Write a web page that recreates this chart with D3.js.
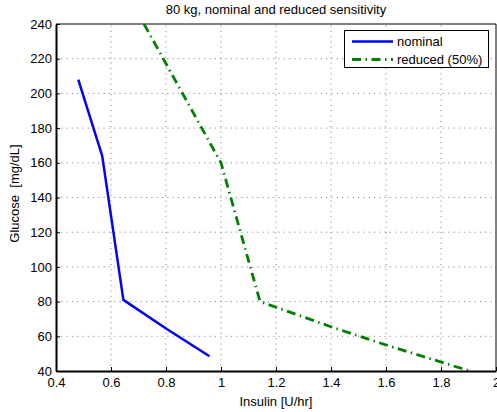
<!DOCTYPE html>
<html>
<head>
<script src="https://d3js.org/d3.v7.min.js"></script>
<style>
  body { margin:0; background:#fff; }
  svg { font-family: "Liberation Sans", Arial, sans-serif; }
</style>
</head>
<body>
<script>
// data
var nominalX = [0.481, 0.568, 0.645, 0.80, 0.958];
var nominalY = [208, 164, 81, 64.5, 48.5];
var reducedX = [0.72, 1.0, 1.142, 1.4, 1.6, 1.905];
var reducedY = [240, 160, 80, 65.5, 55, 40];
var xTicks = [0.4, 0.6, 0.8, 1, 1.2, 1.4, 1.6, 1.8, 2];
var yTicks = [40, 60, 80, 100, 120, 140, 160, 180, 200, 220, 240];
var seriesNames = ["nominal", "reduced (50%)"];

const width = 497, height = 412;
const margin = {top: 24, left: 56, bottom: 41, right: 1};
const fs = 13;

const x = d3.scaleLinear().domain([0.4, 2]).range([margin.left, width - margin.right]);
const y = d3.scaleLinear().domain([40, 240]).range([height - margin.bottom, margin.top]);

const svg = d3.select('body').append('svg').attr('width', width).attr('height', height);

// grid
svg.append('g').selectAll('line').data(xTicks.slice(1, -1)).enter().append('line')
  .attr('x1', d => x(d)).attr('x2', d => x(d))
  .attr('y1', y(40)).attr('y2', y(240))
  .attr('stroke', '#555').attr('stroke-width', 0.8).attr('stroke-dasharray', '1,4.3');
svg.append('g').selectAll('line').data(yTicks.slice(1, -1)).enter().append('line')
  .attr('y1', d => y(d)).attr('y2', d => y(d))
  .attr('x1', x(0.4)).attr('x2', x(2))
  .attr('stroke', '#555').attr('stroke-width', 0.8).attr('stroke-dasharray', '1,4.3');

// axes
const xAxis = svg.append('g')
  .attr('transform', `translate(0, ${y(40)})`)
  .call(d3.axisBottom(x).tickValues(xTicks).tickFormat(d3.format('')).tickSizeInner(-4).tickSizeOuter(0).tickPadding(7));
const yAxis = svg.append('g')
  .attr('transform', `translate(${x(0.4)}, 0)`)
  .call(d3.axisLeft(y).tickValues(yTicks).tickSizeInner(-4).tickSizeOuter(0).tickPadding(4));
[xAxis, yAxis].forEach(g => {
  g.selectAll('text').attr('font-size', fs).attr('fill', '#000');
  g.select('.domain').attr('stroke', '#000').attr('stroke-width', 2);
});
// top and right box edges
svg.append('line').attr('x1', x(0.4)).attr('x2', x(2)).attr('y1', y(240)).attr('y2', y(240)).attr('stroke', '#000');
svg.append('line').attr('x1', x(2)).attr('x2', x(2)).attr('y1', y(240)).attr('y2', y(40)).attr('stroke', '#000');

svg.append('defs').append('clipPath').attr('id', 'clip').append('rect')
  .attr('x', x(0.4)).attr('y', y(240)).attr('width', x(2) - x(0.4)).attr('height', y(40) - y(240));

const line = d3.line().x(d => x(d[0])).y(d => y(d[1]));
const plot = svg.append('g').attr('clip-path', 'url(#clip)');
plot.append('path').datum(d3.zip(nominalX, nominalY)).attr('d', line)
  .attr('fill', 'none').attr('stroke', '#0000ff').attr('stroke-width', 2.5).attr('stroke-linejoin', 'round');
plot.append('path').datum(d3.zip(reducedX, reducedY)).attr('d', line)
  .attr('fill', 'none').attr('stroke', '#008000').attr('stroke-width', 2.8)
  .attr('stroke-dasharray', '9,4.5,1.5,4.5');

// title and labels
svg.append('text').attr('x', (x(0.4) + x(2)) / 2).attr('y', 14).attr('text-anchor', 'middle')
  .attr('font-size', fs).text('80 kg, nominal and reduced sensitivity');
svg.append('text').attr('x', (x(0.4) + x(2)) / 2).attr('y', 406).attr('text-anchor', 'middle')
  .attr('font-size', fs).text('Insulin [U/hr]');
svg.append('text').attr('transform', `translate(19, ${(y(40) + y(240)) / 2 - 4}) rotate(-90)`)
  .attr('text-anchor', 'middle').attr('font-size', fs).attr('xml:space', 'preserve').text('Glucose  [mg/dL]');

// legend
const lg = svg.append('g');
lg.append('rect').attr('x', 344.5).attr('y', 30.5).attr('width', 144).attr('height', 37)
  .attr('fill', '#fff').attr('stroke', '#000').attr('stroke-width', 1);
const styles = [
  {stroke: '#0000ff', w: 2.5, dash: null},
  {stroke: '#008000', w: 2.8, dash: '9,4.5,1.5,4.5'}
];
seriesNames.forEach((n, i) => {
  const yy = 41.5 + i * 18;
  lg.append('line').attr('x1', 352).attr('x2', 393).attr('y1', yy).attr('y2', yy)
    .attr('stroke', styles[i].stroke).attr('stroke-width', styles[i].w)
    .attr('stroke-dasharray', styles[i].dash);
  lg.append('text').attr('x', 397).attr('y', yy + 4.5).attr('font-size', fs).text(n);
});
</script>
</body>
</html>
